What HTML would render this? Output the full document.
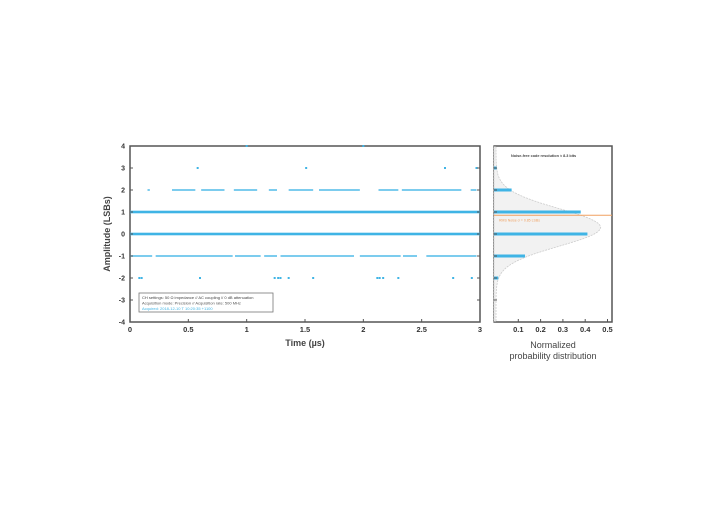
<!DOCTYPE html>
<html><head><meta charset="utf-8"><style>
body{margin:0;background:#fff;width:720px;height:504px;overflow:hidden;font-family:"Liberation Sans",sans-serif}
svg text{font-family:"Liberation Sans",sans-serif}
</style></head><body>
<svg id="chart" width="720" height="504"></svg>
<script>
// time-domain data (µs)
const level3Times=[0.58,1.51,2.70,2.97];
const level4Times=[1.0,2.0];
const levelM2Times=[0.08,0.10,0.60,1.24,1.27,1.29,1.36,1.57,2.12,2.14,2.17,2.30,2.77,2.93];
const level2SegStart=[0.15,0.36,0.61,0.89,1.19,1.36,1.62,2.13,2.33,2.92];
const level2SegEnd=[0.17,0.56,0.81,1.09,1.26,1.57,1.97,2.30,2.84,2.97];
const levelM1SegStart=[0.0,0.22,0.90,1.15,1.29,1.53,1.97,2.34,2.54];
const levelM1SegEnd=[0.19,0.88,1.12,1.26,1.53,1.92,2.32,2.46,2.97];
const xTicks=[0,0.5,1,1.5,2,2.5,3];
const yTicks=[-4,-3,-2,-1,0,1,2,3,4];
// histogram
const histLevels=[3,2,1,0,-1,-2];
const histValues=[0.003,0.07,0.38,0.41,0.13,0.01];
const hTicks=[0.1,0.2,0.3,0.4,0.5];
const gaussMean=0.3, gaussSigma=0.85, rmsLevel=0.85;

const svg=document.getElementById('chart');
const NS='http://www.w3.org/2000/svg';
function mk(tag,attrs,parent){const e=document.createElementNS(NS,tag);for(const k in attrs)e.setAttribute(k,attrs[k]);(parent||svg).appendChild(e);return e;}
const X0=130,X1=480,Y0=146,Y1=322;
const xs=t=>X0+(t/3)*(X1-X0);
const ys=v=>Y1-(v+4)/8*(Y1-Y0);
const HX0=494,HX1=612;
const hx=p=>496+p*223;
const blue='#3fb4e5';

// main frame
let f=mk('rect',{x:X0,y:Y0,width:X1-X0,height:Y1-Y0,fill:'none',stroke:'#555','stroke-width':1.5});


// continuous levels 0 and 1
[0,1].forEach(l=>{const r=mk('rect',{x:X0,y:ys(l)-1.3,width:X1-X0,height:2.6,fill:blue});

});
level2SegStart.forEach((s,i)=>{const r=mk('rect',{x:xs(s),y:ys(2)-0.8,width:xs(level2SegEnd[i])-xs(s),height:1.6,fill:blue,opacity:0.85});

});
levelM1SegStart.forEach((s,i)=>{const r=mk('rect',{x:xs(s),y:ys(-1)-0.8,width:xs(levelM1SegEnd[i])-xs(s),height:1.6,fill:blue,opacity:0.85});

});
[[level3Times,3],[level4Times,4],[levelM2Times,-2]].forEach(([arr,l])=>arr.forEach(t=>{
const c=mk('rect',{x:xs(t)-1,y:ys(l)-1,width:2,height:2,fill:blue});

}));
// ticks
xTicks.forEach(t=>{mk('line',{x1:xs(t),x2:xs(t),y1:Y1,y2:Y1-3,stroke:'#555'});
const tx=mk('text',{x:xs(t),y:Y1+10,'font-size':7.5,'font-weight':'bold','text-anchor':'middle',fill:'#333'});tx.textContent=t;

});
yTicks.forEach(v=>{mk('line',{x1:X0,x2:X0+3,y1:ys(v),y2:ys(v),stroke:'#555'});mk('line',{x1:X1,x2:X1-3,y1:ys(v),y2:ys(v),stroke:'#555'});
const tx=mk('text',{x:X0-5,y:ys(v)+2.5,'font-size':7,'font-weight':'bold','text-anchor':'end',fill:'#333'});tx.textContent=v;

});
let t=mk('text',{x:X0+(X1-X0)/2,y:346,'font-size':9,'font-weight':'bold','text-anchor':'middle',fill:'#444'});t.textContent='Time (µs)';


t=mk('text',{x:110,y:234,'font-size':9,'font-weight':'bold','text-anchor':'middle',fill:'#444',transform:'rotate(-90 110 234)'});t.textContent='Amplitude (LSBs)';


// info box
const g=mk('g',{});


mk('rect',{x:139,y:293,width:134,height:19,fill:'#fff',stroke:'#777','stroke-width':0.8},g);
[['CH settings: 50 Ω impedance // AC coupling // 0 dB attenuation','#444',299],['Acquisition mode: Precision // Acquisition rate: 500 MHz','#555',304.5],['Acquired: 2018-12-10 T 10:20:35 +1100',blue,310]].forEach(([s,c,y])=>{const e=mk('text',{x:142,y:y,'font-size':4,fill:c},g);e.textContent=s;});

// histogram frame
f=mk('rect',{x:HX0,y:Y0,width:HX1-HX0,height:Y1-Y0,fill:'none',stroke:'#555','stroke-width':1.5});


// gaussian
let d='',pts=[];
for(let v=-4;v<=4.001;v+=0.1){const p=Math.exp(-0.5*((v-gaussMean)/gaussSigma)**2)/(Math.sqrt(2*Math.PI)*gaussSigma);pts.push([hx(p),ys(v)]);}
d='M'+HX0+','+ys(-4)+' '+pts.map(p=>'L'+p[0].toFixed(1)+','+p[1].toFixed(1)).join(' ')+' L'+HX0+','+ys(4)+'Z';
let gp=mk('path',{d:d,fill:'#f2f2f2',stroke:'#ccc','stroke-width':0.8,'stroke-dasharray':'2,1'});


histLevels.forEach((l,i)=>{const r=mk('rect',{x:HX0,y:ys(l)-1.5,width:Math.max(1,hx(histValues[i])-HX0),height:3,fill:blue});

});
let rl=mk('line',{x1:HX0,x2:HX1,y1:ys(rmsLevel),y2:ys(rmsLevel),stroke:'#f0a060','stroke-width':1});


t=mk('text',{x:HX0+5,y:ys(rmsLevel)+6,'font-size':3.5,fill:'#f0a060'});t.textContent='RMS Noise σ = 0.85 LSBs';


t=mk('text',{x:HX0+17,y:157,'font-size':3.8,'font-weight':'bold',fill:'#444'});t.textContent='Noise-free code resolution ≈ 8.3 bits';


yTicks.forEach(v=>mk('line',{x1:HX0,x2:HX0+3,y1:ys(v),y2:ys(v),stroke:'#555'}));
hTicks.forEach(p=>{mk('line',{x1:hx(p),x2:hx(p),y1:Y1,y2:Y1-3,stroke:'#555'});
const tx=mk('text',{x:hx(p),y:Y1+10,'font-size':7.5,'font-weight':'bold','text-anchor':'middle',fill:'#333'});tx.textContent=p;

});
t=mk('text',{x:553,y:348,'font-size':9,'text-anchor':'middle',fill:'#444'});t.textContent='Normalized';


t=mk('text',{x:553,y:359,'font-size':9,'text-anchor':'middle',fill:'#444'});t.textContent='probability distribution';


</script>
</body></html>
